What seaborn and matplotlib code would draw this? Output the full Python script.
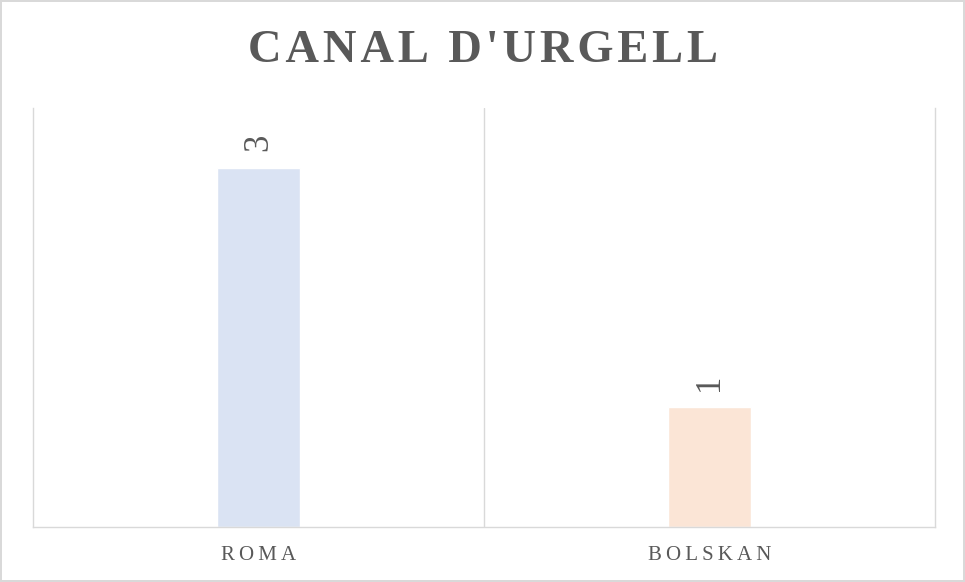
import numpy as np
import pandas as pd
import seaborn as sns
import matplotlib.pyplot as plt

# data
categories = ["ROMA", "BOLSKAN"]
values = [3, 1]
bar_colors = ["#DAE3F3", "#FBE5D6"]
title = "CANAL D'URGELL"

text_grey = "#595959"
line_grey = "#D9D9D9"


def spaced(s, gap):
    # matplotlib has no letter-spacing, so pad with narrow spaces
    return gap.join(list(s))


sns.set_theme(style="white")
plt.rcParams['font.family'] = ['Liberation Serif', 'DejaVu Serif']

df = pd.DataFrame({"site": categories, "count": values})

fig = plt.figure(figsize=(9.65, 5.82), dpi=100)
fig.patch.set_edgecolor(line_grey)
fig.patch.set_linewidth(1.5)
ax = fig.add_axes([0.0342, 0.0945, 0.9347, 0.7199])

sns.barplot(data=df, x="site", y="count", hue="site", palette=bar_colors,
            width=0.183, legend=False, saturation=1, ax=ax)

for cont in ax.containers:
    ax.bar_label(cont, rotation=90, padding=12, fontsize=25, color=text_grey)

ax.set(xlim=(-0.5, 1.5), ylim=(0, 3.5), xlabel="", ylabel="")
ax.set_yticks([])
ax.axvline(0.5, color=line_grey, lw=1)
ax.set_xticks(range(len(categories)))
ax.set_xticklabels([spaced(c, "\u2009") for c in categories],
                   fontsize=15, color=text_grey)
ax.tick_params(axis="x", length=0, pad=14)

sns.despine(ax=ax, top=True, right=False, left=False)
for side in ["left", "right", "bottom"]:
    ax.spines[side].set_color(line_grey)
    ax.spines[side].set_linewidth(1)

fig.text(0.5, 0.912, spaced(title, "\u200a"), ha="center", va="center",
         fontsize=33.5, fontweight="bold", color=text_grey)

fig.savefig("out.png", dpi=100)
